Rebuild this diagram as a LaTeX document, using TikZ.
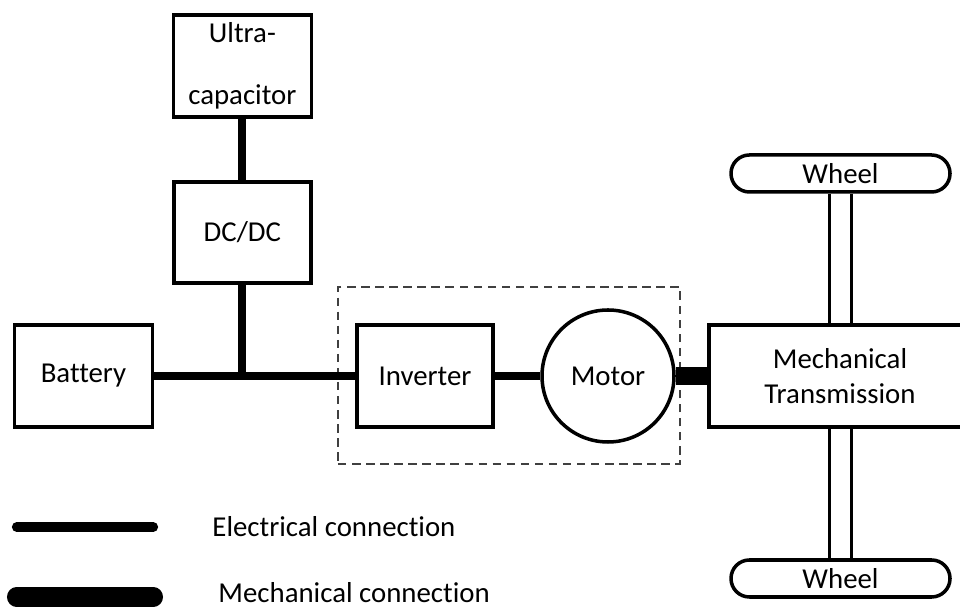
\documentclass[tikz,border=0pt]{standalone}
\usepackage{fontspec}
\setmainfont{Carlito}[Ligatures={NoCommon,NoRare}]
\usetikzlibrary{positioning, calc}
\tikzset{
  every picture/.style={line width=2.5pt},
  every node/.style={font=\fontsize{20.5}{24.9}\selectfont},
  box/.style={draw, rectangle, align=center, minimum width=3.45cm, minimum height=2.55cm, inner sep=0pt},
  wheel/.style={draw, rounded corners=0.46cm, minimum width=5.475cm, minimum height=0.925cm, inner sep=0pt},
  motorbox/.style={draw, circle, minimum size=3.3cm, inner sep=0pt},
  group/.style={draw=black!75, line width=1pt, dash pattern=on 6pt off 4pt, minimum width=8.55cm, minimum height=4.425cm},
  elec/.style={line width=5.7pt},
  mech/.style={line width=13pt},
  shaft/.style={line width=2.5pt},
  legend/.style={anchor=west},
}

\begin{document}
\begin{tikzpicture}
  \useasboundingbox (0,0) rectangle (24,15.225);

  % drive unit
  \node[group] (drive) at (12.725,5.8375) {};

  % storage side
  \node[box] (ultra) at (6.06,13.575) {Ultra-\\[0.675cm]capacitor};
  \node[box, minimum width=3.425cm, minimum height=2.525cm] (dcdc) at (6.06,9.4125) {DC/DC};
  \node[box] (bat) at (2.0875,5.825) {Battery};
  \node[box, minimum width=3.4cm] (inv) at (10.625,5.825) {Inverter};
  \node[motorbox] (motor) at (15.2,5.825) {Motor};

  % transmission and wheels
  \node[box, minimum width=6.55cm] (trans) at (21.0,5.825) {Mechanical\\Transmission};
  \node[wheel] (wheeltop) at (21.0125,10.8875) {Wheel};
  \node[wheel] (wheelbot) at (21.0125,0.7625) {Wheel};

  % electrical links
  \draw[elec] (ultra) -- (dcdc);
  \draw[elec] (bat.east) -- (inv.west);
  \draw[elec] (dcdc.south) -- (dcdc.south |- bat.east);
  \draw[elec] (inv) -- (motor);

  % mechanical links
  \draw[mech] (motor.east) -- (trans.west);
  \foreach \dx in {-0.275,0.275} {
    \draw[shaft] ([xshift=\dx cm]wheeltop.south) -- ([xshift=\dx cm]wheeltop.south |- trans.north);
    \draw[shaft] ([xshift=\dx cm]wheelbot.north) -- ([xshift=\dx cm]wheelbot.north |- trans.south);
  }

  % legend
  \coordinate (ela) at (0.42,2.05);
  \coordinate (elb) at (3.83,2.05);
  \coordinate (mea) at (0.415,0.3);
  \coordinate (meb) at (3.835,0.3);
  \draw[elec, line width=7pt, line cap=round] (ela) -- (elb);
  \draw[mech, line width=13.7pt, line cap=round] (mea) -- (meb);
  \node[legend] (eltext) at (5.15,2.05) {Electrical connection};
  \node[legend] (metext) at (5.3,0.42) {Mechanical connection};
\end{tikzpicture}
\end{document}
